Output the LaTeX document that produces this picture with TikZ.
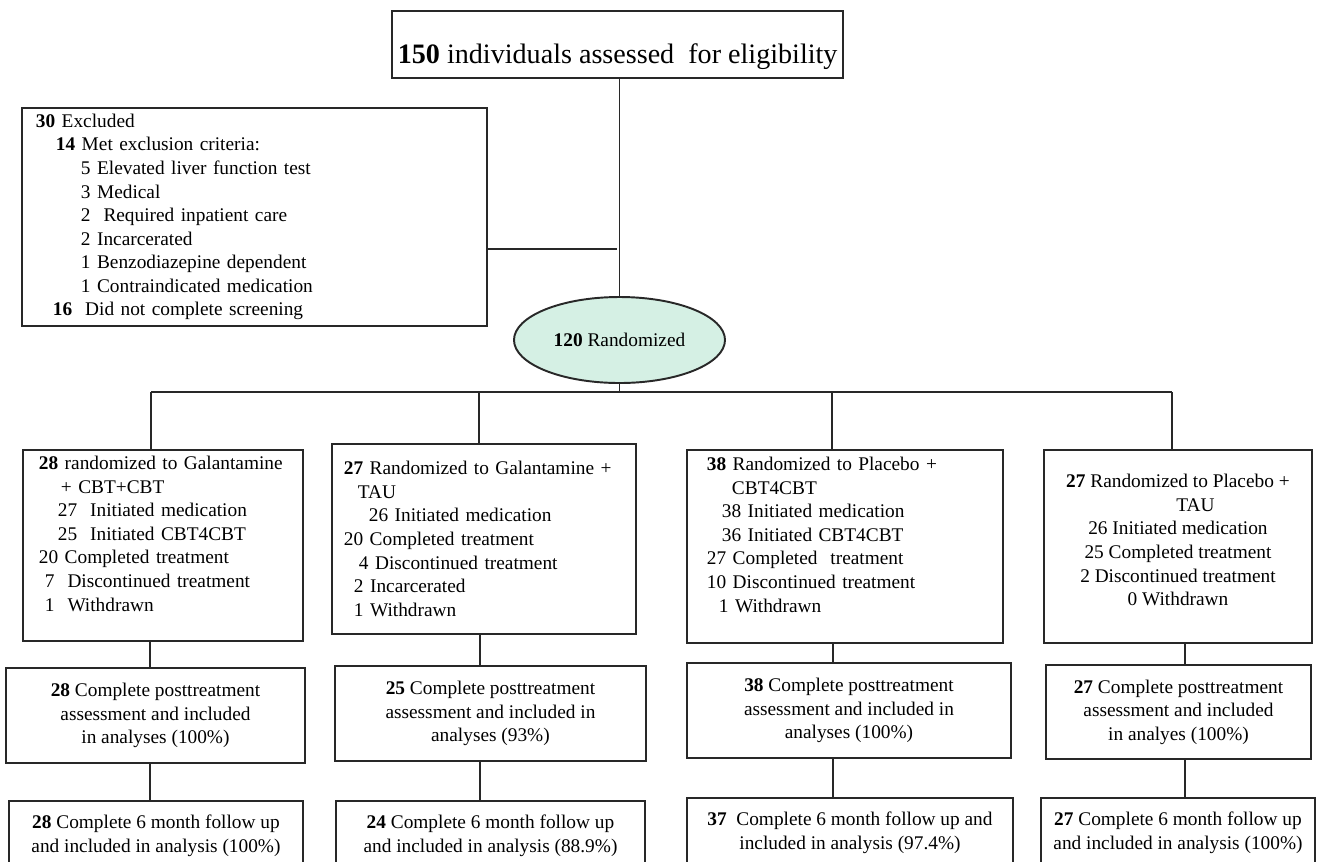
\documentclass[tikz,border=0pt]{standalone}
\usepackage{fontspec}
\setmainfont{Liberation Serif}
\usepackage{xcolor}
\usepackage{tikz}
\usetikzlibrary{positioning,shapes.geometric}

\definecolor{randFill}{RGB}{213,240,228}
\definecolor{lineGray}{RGB}{40,40,40}

\begin{document}
\begin{tikzpicture}[every node/.style={align=center, font=\fontsize{11}{13.4}\selectfont},
    box/.style={draw=lineGray, rectangle, line width=1.1pt, anchor=north west, inner ysep=2pt},
    link/.style={draw=lineGray, line width=1.1pt}]
\useasboundingbox (0,0) rectangle (26.78,-17.22);
\clip (0,0) rectangle (26.78,-17.22);

% screening
\node (screened) [box, minimum width=8.82cm, minimum height=1.34cm, text height=24.6pt, text depth=3.5pt, font=\fontsize{16}{19}\selectfont] at (7.82,-0.20) {\textbf{150} individuals assessed\ \ for eligibility};
\node (excluded) [box, minimum height=4.36cm, inner xsep=0.28cm, text width=8.74cm, align=left] at (0.42,-2.14) {\textbf{30} Excluded\\
    \hspace*{0.40cm}\textbf{14} Met exclusion criteria:\\
    \hspace*{0.90cm}5 Elevated liver function test\\
    \hspace*{0.90cm}3 Medical\\
    \hspace*{0.90cm}2\ \ Required inpatient care\\
    \hspace*{0.90cm}2 Incarcerated\\
    \hspace*{0.90cm}1 Benzodiazepine dependent\\
    \hspace*{0.90cm}1 Contraindicated medication\\
    \hspace*{0.34cm}\textbf{16}\ \ Did not complete screening};
\node (randomized) [draw=lineGray, ellipse, line width=1.1pt, fill=randFill, minimum width=4.22cm, minimum height=1.72cm] at (12.39,-6.80) {\textbf{120} Randomized};

% arms
\node (galCbt) [box, minimum height=3.82cm, inner xsep=0.32cm, text width=4.96cm, align=left] at (0.44,-8.98) {\textbf{28} randomized to Galantamine\\
    \hspace*{0.44cm}+ CBT+CBT\\
    \hspace*{0.38cm}27\ \ Initiated medication\\
    \hspace*{0.38cm}25\ \ Initiated CBT4CBT\\
    20 Completed treatment\\
    \hspace*{0.12cm}7\ \ Discontinued treatment\\
    \hspace*{0.12cm}1\ \ Withdrawn\\ \mbox{}};
\node (galTau) [box, minimum height=3.80cm, inner xsep=0.24cm, text width=5.60cm, align=left] at (6.62,-8.86) {\textbf{27} Randomized to Galantamine +\\
    \hspace*{0.28cm}TAU\\
    \hspace*{0.50cm}26 Initiated medication\\
    20 Completed treatment\\
    \hspace*{0.30cm}4 Discontinued treatment\\
    \hspace*{0.20cm}2 Incarcerated\\
    \hspace*{0.20cm}1 Withdrawn};
\node (plcCbt) [box, minimum height=3.86cm, inner xsep=0.40cm, text width=5.52cm, align=left] at (13.72,-8.98) {\textbf{38} Randomized to Placebo +\\
    \hspace*{0.50cm}CBT4CBT\\
    \hspace*{0.30cm}38 Initiated medication\\
    \hspace*{0.30cm}36 Initiated CBT4CBT\\
    27 Completed\ \ treatment\\
    10 Discontinued treatment\\
    \hspace*{0.24cm}1 Withdrawn\\ \mbox{}};
\node (plcTau) [box, minimum width=5.36cm, minimum height=3.86cm] at (20.86,-8.98) {\textbf{27} Randomized to Placebo +\\
    \hspace*{0.70cm}TAU\\
    26 Initiated medication\\
    25 Completed treatment\\
    2 Discontinued treatment\\
    0 Withdrawn\\[-6pt] \mbox{}};

% posttreatment
\node (galCbtPost) [box, minimum width=5.98cm, minimum height=1.90cm] at (0.10,-13.34) {\textbf{28} Complete posttreatment\\ assessment and included\\ in analyses (100\%)};
\node (galTauPost) [box, minimum width=6.22cm, minimum height=1.90cm] at (6.68,-13.30) {\textbf{25} Complete posttreatment\\ assessment and included in\\ analyses (93\%)};
\node (plcCbtPost) [box, minimum width=6.48cm, minimum height=1.90cm] at (13.72,-13.24) {\textbf{38} Complete posttreatment\\ assessment and included in\\ analyses (100\%)};
\node (plcTauPost) [box, minimum width=5.30cm, minimum height=1.88cm] at (20.90,-13.28) {\textbf{27} Complete posttreatment\\ assessment and included\\ in analyes (100\%)};

% follow up
\node (galCbtFu) [box, minimum width=5.88cm, minimum height=1.40cm] at (0.16,-16.00) {\textbf{28} Complete 6 month follow up\\ and included in analysis (100\%)};
\node (galTauFu) [box, minimum width=6.18cm, minimum height=1.40cm] at (6.70,-16.00) {\textbf{24} Complete 6 month follow up\\ and included in analysis (88.9\%)};
\node (plcCbtFu) [box, minimum width=6.52cm, minimum height=1.40cm] at (13.72,-15.94) {\textbf{37}\ \ Complete 6 month follow up and\\ included in analysis (97.4\%)};
\node (plcTauFu) [box, minimum width=5.48cm, minimum height=1.40cm] at (20.80,-15.94) {\textbf{27} Complete 6 month follow up\\ and included in analysis (100\%)};

% lines
\coordinate (exJoin) at (12.34,-4.98);
\coordinate (armBar) at (0,-7.84);
\coordinate (drop1) at (3.02,-7.84);
\coordinate (drop2) at (9.58,-7.84);
\coordinate (drop3) at (16.64,-7.84);
\coordinate (drop4) at (23.44,-7.84);
\coordinate (col1) at (3.00,0);
\coordinate (col2) at (9.60,0);
\coordinate (col3) at (16.66,0);
\coordinate (col4) at (23.70,0);

\draw[link] (screened.south -| randomized.north) -- (randomized.north);
\draw[link] (excluded.east |- exJoin) -- (exJoin);
\draw[link] (randomized.south) -- (randomized.south |- armBar);
\draw[link] (drop1) -- (drop4);
\draw[link] (drop1) -- (drop1 |- galCbt.north);
\draw[link] (drop2) -- (drop2 |- galTau.north);
\draw[link] (drop3) -- (drop3 |- plcCbt.north);
\draw[link] (drop4) -- (drop4 |- plcTau.north);

\draw[link] (galCbt.south -| col1) -- (galCbtPost.north -| col1);
\draw[link] (galTau.south -| col2) -- (galTauPost.north -| col2);
\draw[link] (plcCbt.south -| col3) -- (plcCbtPost.north -| col3);
\draw[link] (plcTau.south -| col4) -- (plcTauPost.north -| col4);

\draw[link] (galCbtPost.south -| col1) -- (galCbtFu.north -| col1);
\draw[link] (galTauPost.south -| col2) -- (galTauFu.north -| col2);
\draw[link] (plcCbtPost.south -| col3) -- (plcCbtFu.north -| col3);
\draw[link] (plcTauPost.south -| col4) -- (plcTauFu.north -| col4);
\end{tikzpicture}
\end{document}
